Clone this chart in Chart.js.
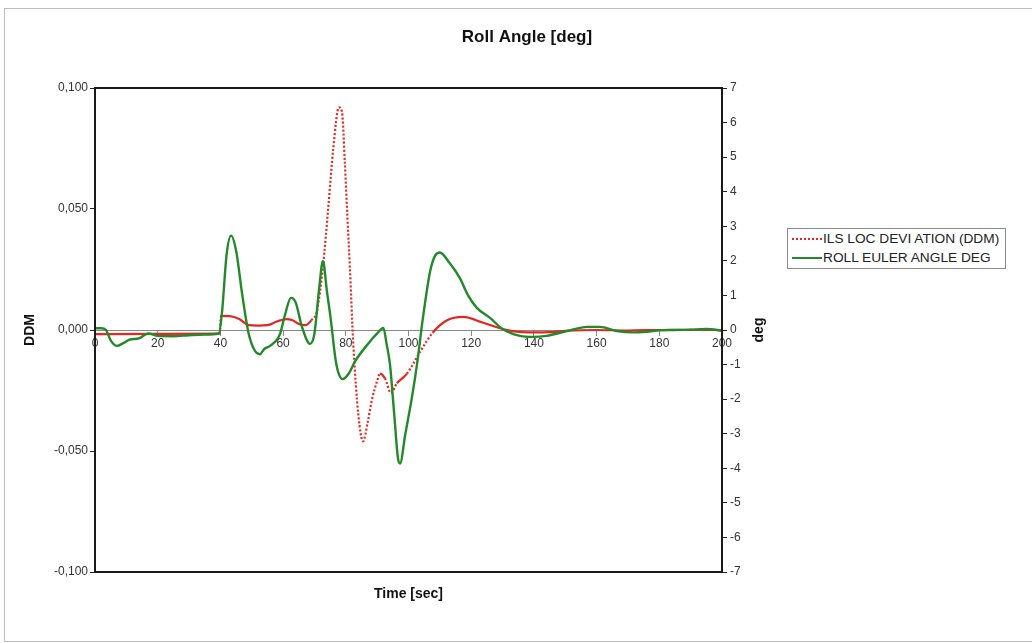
<!DOCTYPE html>
<html>
<head>
<meta charset="utf-8">
<script src="https://cdn.jsdelivr.net/npm/chart.js@4/dist/chart.umd.min.js"></script>
<style>
  body { margin: 0; overflow: hidden; background: #fff; }
  #frame { position: absolute; left: 4px; top: 8px; width: 1100px; height: 632px; border: 1px solid #bdbdbd; }
  #roll_chart { position: absolute; left: 0; top: 0; }
  #legend {
    position: absolute; left: 787px; top: 228px; width: 217px; height: 39px;
    border: 1px solid #8a8a8a; background: #fff;
    font-family: "Liberation Sans", Arial, sans-serif; font-size: 13.7px; color: #222;
  }
  #legend .row { position: absolute; left: 4px; height: 16px; line-height: 16px; white-space: nowrap; }
  #legend .swatch { display: inline-block; width: 30px; vertical-align: middle; margin-right: 1px; }
</style>
</head>
<body>
<div id="frame"></div>
<canvas id="roll_chart" width="1054" height="643"></canvas>
<div id="legend">
  <div class="row" style="top:2px"><span class="swatch" style="border-top:2px dotted #e3261f"></span>ILS LOC DEVI ATION (DDM)</div>
  <div class="row" style="top:21px"><span class="swatch" style="border-top:2px solid #23892b"></span>ROLL EULER ANGLE DEG</div>
</div>
<script>
// ILS localizer deviation (DDM), left axis
const loc_time = [0, 39.8, 40.2, 43, 46, 49, 52, 55, 58, 61, 63, 65, 67, 69, 70.8, 72.7, 74.5, 76, 77.8, 78.8,
    79.7, 80.5, 81.3, 82.4, 84, 85.5, 87, 88.3, 90, 90.9, 92.5, 94.4, 96.3, 98, 99.5, 101.5, 103.7, 107.8,
    112.3, 117.4, 123.8, 130, 135, 140, 145, 150, 160, 170, 180, 190, 200];
const loc_ddm = [-0.0017, -0.0015, 0.0058, 0.0057, 0.0045, 0.002, 0.0018, 0.002, 0.0035, 0.0045, 0.004, 0.0025,
    0.002, 0.004, 0.008, 0.026, 0.052, 0.075, 0.092, 0.090, 0.069, 0.047, 0.026, -0.006, -0.035, -0.046, -0.038,
    -0.029, -0.021, -0.018, -0.020, -0.026, -0.022, -0.020, -0.018, -0.014, -0.009, -0.001, 0.004, 0.0054, 0.003,
    0.0004, -0.0008, -0.001, -0.0009, -0.0004, 0.0, -0.0002, 0.0, 0.0001, 0.0];

// roll euler angle (deg), right axis
const roll_time = [0, 2, 3.5, 5, 7, 9, 11, 14, 17, 20, 25, 30, 35, 39.5, 40.5, 42, 43.4, 45, 47, 49, 51, 52.6,
    54, 55.8, 59, 60.5, 62.5, 64, 66, 68.6, 70, 71.5, 72.7, 74, 75, 77, 79, 81, 83, 87, 90, 92, 93, 94.1, 95.5,
    96.7, 97.3, 99, 101, 102.7, 104.6, 106.9, 108.5, 110, 113, 116.4, 119, 121.8, 126, 130, 135.6, 139.7, 144,
    150.6, 157, 161, 166.5, 171.6, 176, 180, 185, 190, 195, 200];
const roll_deg = [0.05, 0.05, 0.0, -0.3, -0.46, -0.38, -0.28, -0.24, -0.1, -0.17, -0.18, -0.15, -0.13, -0.1,
    0.5, 2.2, 2.73, 2.3, 1.0, -0.1, -0.6, -0.7, -0.55, -0.46, -0.12, 0.4, 0.93, 0.8, 0.1, -0.4, -0.1, 1.2, 2.0,
    1.1, 0.46, -1.0, -1.42, -1.25, -0.9, -0.41, -0.1, 0.06, -0.4, -1.0, -2.5, -3.75, -3.86, -3.0, -2.0, -1.0,
    0.35, 1.7, 2.15, 2.24, 1.95, 1.5, 1.0, 0.64, 0.35, 0.03, -0.17, -0.2, -0.17, -0.03, 0.09, 0.09, -0.03, -0.07,
    -0.05, -0.01, 0.0, 0.01, 0.03, -0.02];

const ddm_ticks = { min: -0.1, max: 0.1, step: 0.05 };
const deg_ticks = { min: -7, max: 7, step: 1 };
const time_ticks = { min: 0, max: 200, step: 20 };

const chart_title = 'Roll Angle [deg]';
const font_family = '"Liberation Sans", Arial, sans-serif';

function toPoints(xs, ys){
    return xs.map((x, i) => ({x: x, y: ys[i]}));
}

// black box around the plot area, title over the whole frame, right axis title
const framePlugin = {
    id: 'framePlugin',
    afterDraw(chart){
        const ctx = chart.ctx;
        const a = chart.chartArea;
        ctx.save();
        ctx.strokeStyle = '#1a1a1a';
        ctx.lineWidth = 2;
        ctx.strokeRect(a.left, a.top, a.right - a.left, a.bottom - a.top);

        ctx.fillStyle = '#111';
        ctx.textAlign = 'center';
        ctx.textBaseline = 'middle';
        ctx.font = 'bold 17px ' + font_family;
        ctx.fillText(chart_title, 527, 37);

        ctx.translate(759, 330);
        ctx.rotate(-Math.PI / 2);
        ctx.font = 'bold 14px ' + font_family;
        ctx.fillText('deg', 0, 0);
        ctx.restore();
    }
};

const ctx = document.getElementById('roll_chart').getContext('2d');
const roll_chart = new Chart(ctx, {
    type: 'line',
    data: {
        datasets: [{
            label: 'ILS LOC DEVI ATION (DDM)',
            data: toPoints(loc_time, loc_ddm),
            yAxisID: 'y',
            borderColor: '#e3261f',
            borderWidth: 2.2,
            pointRadius: 0,
            cubicInterpolationMode: 'monotone',
            order: 1,
            // steep parts show up dotted in the original
            segment: {
                borderDash: c => Math.abs(c.p1.y - c.p0.y) > Math.abs(c.p1.x - c.p0.x) * 1.2 ? [2, 2] : undefined
            }
        }, {
            label: 'ROLL EULER ANGLE DEG',
            data: toPoints(roll_time, roll_deg),
            yAxisID: 'y2',
            borderColor: '#23892b',
            borderWidth: 2.4,
            pointRadius: 0,
            cubicInterpolationMode: 'monotone',
            order: 0
        }]
    },
    options: {
        responsive: false,
        animation: false,
        layout: { padding: { top: 88, left: 10, right: 292, bottom: 0 } },
        plugins: {
            legend: { display: false },
            tooltip: { enabled: false },
            title: { display: false }
        },
        scales: {
            x: {
                type: 'linear',
                position: { y: 0 },
                min: time_ticks.min,
                max: time_ticks.max,
                ticks: { stepSize: time_ticks.step, color: '#333', padding: 1, maxRotation: 0,
                    font: { family: font_family, size: 12 } },
                grid: { drawOnChartArea: false, tickLength: 5, color: '#888' },
                border: { color: '#888', width: 1 }
            },
            x2: {
                type: 'linear',
                position: 'bottom',
                min: time_ticks.min,
                max: time_ticks.max,
                ticks: { display: false },
                grid: { display: false },
                border: { display: false },
                title: { display: true, text: 'Time [sec]', color: '#111',
                    font: { family: font_family, size: 14, weight: 'bold' }, padding: { top: 0, bottom: 40 } },
                afterFit: s => { s.height = 71; }
            },
            y: {
                position: 'left',
                min: ddm_ticks.min,
                max: ddm_ticks.max,
                ticks: {
                    stepSize: ddm_ticks.step, color: '#333', padding: 2,
                    font: { family: font_family, size: 12 },
                    callback: v => (Math.abs(v) < 1e-9 ? 0 : v).toFixed(3).replace('.', ',')
                },
                grid: { drawOnChartArea: false, tickLength: 5, color: '#222' },
                border: { color: '#1a1a1a', width: 2 },
                title: { display: true, text: 'DDM', color: '#111',
                    font: { family: font_family, size: 14, weight: 'bold' }, padding: { top: 12, bottom: 0 } },
                afterFit: s => { s.width = 85; }
            },
            y2: {
                position: 'right',
                min: deg_ticks.min,
                max: deg_ticks.max,
                ticks: { stepSize: deg_ticks.step, color: '#333', padding: 3,
                    font: { family: font_family, size: 12 } },
                grid: { drawOnChartArea: false, tickLength: 5, color: '#222' },
                border: { color: '#1a1a1a', width: 2 },
                afterFit: s => { s.width = 40; }
            }
        }
    },
    plugins: [framePlugin]
});
</script>
</body>
</html>
